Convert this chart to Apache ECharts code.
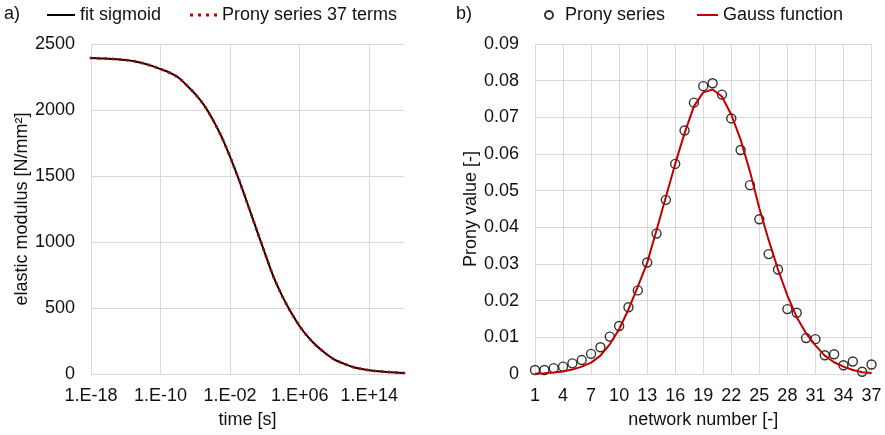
<!DOCTYPE html>
<html><head><meta charset="utf-8">
<script src="https://cdn.jsdelivr.net/npm/echarts@6/dist/echarts.min.js"></script>
<style>html,body{margin:0;padding:0;background:#fff}#c{width:885px;height:435px}</style>
</head><body><div id="c"></div>
<script>
// ---- panel a) ----
const timeExponents = [-18,-17,-16,-15,-14,-13,-12,-11,-10,-9,-8,-7,-6,-5,-4,-3,-2,-1,0,1,2,3,4,5,6,7,8,9,10,11,12,13,14,15,16,17,18];
const fitSigmoid = [2394,2391,2389,2385,2379,2369,2354,2334,2310,2284,2248,2188,2120,2037,1928,1800,1644,1474,1290,1101,916,735,590,467,362,278,210,155,109,80,55,39,28,21,16,12,8];
const pronySeries37 = [2394,2391,2389,2385,2379,2369,2354,2334,2310,2284,2248,2188,2120,2037,1928,1800,1644,1474,1290,1101,916,735,590,467,362,278,210,155,109,80,55,39,28,21,16,12,8];
const timeTickLabels = {'-18':'1.E-18','-10':'1.E-10','-2':'1.E-02','6':'1.E+06','14':'1.E+14'};
// ---- panel b) ----
const networkNumbers = ['1','2','3','4','5','6','7','8','9','10','11','12','13','14','15','16','17','18','19','20','21','22','23','24','25','26','27','28','29','30','31','32','33','34','35','36','37'];
const pronyValues = [0.0011,0.0011,0.0016,0.0020,0.0029,0.0038,0.0055,0.0073,0.0102,0.0131,0.0182,0.0228,0.0304,0.0383,0.0475,0.0573,0.0664,0.0740,0.0785,0.0793,0.0762,0.0697,0.0611,0.0515,0.0422,0.0327,0.0285,0.0177,0.0167,0.0098,0.0095,0.0051,0.0054,0.0024,0.0034,0.0006,0.0026];
const gaussValues = [0.0001,0.0002,0.0004,0.0007,0.0012,0.0020,0.0031,0.0050,0.0081,0.0122,0.0176,0.0238,0.0303,0.0392,0.0483,0.0573,0.0657,0.0730,0.0768,0.0776,0.0757,0.0707,0.0639,0.0552,0.0452,0.0365,0.0285,0.0214,0.0155,0.0111,0.0078,0.0050,0.0032,0.0020,0.0011,0.0005,0.0003];

const FONT = '"Liberation Sans", Arial, sans-serif';
const TXT = '#111';
const GRID = '#d9d9d9';
const RED = '#c00000';
const lbl = {fontFamily: FONT, fontSize: 18, color: TXT};
const dotsIcon = 'path://M0,0h3v3h-3z M8,0h3v3h-3z M16,0h3v3h-3z M24,0h3v3h-3z';

const chart = echarts.init(document.getElementById('c'), null, {renderer: 'canvas'});
chart.setOption({
  animation: false,
  backgroundColor: '#fff',
  textStyle: {fontFamily: FONT},
  graphic: [
    {type: 'text', left: 4, top: 5, style: {text: 'a)', font: '18px ' + FONT, fill: TXT}},
    {type: 'text', left: 456, top: 5, style: {text: 'b)', font: '18px ' + FONT, fill: TXT}}
  ],
  legend: [
    {data: [{name: 'fit sigmoid', icon: 'rect', itemStyle: {color: '#000'}}], left: 47, top: 6, padding: 0,
     itemWidth: 28, itemHeight: 2, textStyle: lbl},
    {data: [{name: 'Prony series 37 terms', icon: dotsIcon, itemStyle: {color: RED}}], left: 190, top: 6, padding: 0,
     itemWidth: 27, itemHeight: 3, textStyle: lbl},
    {data: ['Prony series'], left: 544, top: 6, padding: 0, itemWidth: 8, itemHeight: 8,
     textStyle: Object.assign({}, lbl, {padding: [0,0,0,7]})},
    {data: [{name: 'Gauss function', icon: 'rect', itemStyle: {color: RED}}], left: 697, top: 6, padding: 0,
     itemWidth: 21, itemHeight: 2, textStyle: lbl}
  ],
  grid: [
    {left: 91, right: 481, top: 44, bottom: 61},
    {left: 535, right: 13.5, top: 44, bottom: 61}
  ],
  xAxis: [
    {
      type: 'value', gridIndex: 0, min: -18, max: 18, interval: 8,
      name: 'time [s]', nameLocation: 'middle', nameGap: 37, nameTextStyle: lbl,
      axisLine: {show: true, lineStyle: {color: GRID, width: 1}},
      axisTick: {show: false},
      axisLabel: Object.assign({}, lbl, {margin: 13, showMaxLabel: false,
        formatter: v => timeTickLabels[String(Math.round(v))] || ''}),
      splitLine: {show: true, showMaxLine: false, lineStyle: {color: GRID, width: 1}}
    },
    {
      type: 'category', gridIndex: 1, data: networkNumbers, boundaryGap: false,
      name: 'network number [-]', nameLocation: 'middle', nameGap: 37, nameTextStyle: lbl,
      axisLine: {show: true, lineStyle: {color: GRID, width: 1}},
      axisTick: {show: false},
      axisLabel: Object.assign({}, lbl, {margin: 13, interval: 2}),
      splitLine: {show: true, interval: 2, lineStyle: {color: GRID, width: 1}}
    }
  ],
  yAxis: [
    {
      type: 'value', gridIndex: 0, min: 0, max: 2500, interval: 500,
      name: 'elastic modulus [N/mm²]', nameLocation: 'middle', nameGap: 58, nameTextStyle: lbl,
      axisLine: {show: false}, axisTick: {show: false},
      axisLabel: Object.assign({}, lbl, {margin: 16, formatter: v => String(Math.round(v))}),
      splitLine: {show: true, lineStyle: {color: GRID, width: 1}}
    },
    {
      type: 'value', gridIndex: 1, min: 0, max: 0.09, interval: 0.01,
      name: 'Prony value [-]', nameLocation: 'middle', nameGap: 55, nameTextStyle: lbl,
      axisLine: {show: false}, axisTick: {show: false},
      axisLabel: Object.assign({}, lbl, {margin: 16, formatter: v => v === 0 ? '0' : v.toFixed(2)}),
      splitLine: {show: true, lineStyle: {color: GRID, width: 1}}
    }
  ],
  series: [
    {
      name: 'fit sigmoid', type: 'line', xAxisIndex: 0, yAxisIndex: 0,
      data: timeExponents.map((e, i) => [e, fitSigmoid[i]]),
      showSymbol: false, symbol: 'none', smooth: 0.3,
      lineStyle: {color: '#000', width: 2}, itemStyle: {color: '#000'}, z: 2
    },
    {
      name: 'Prony series 37 terms', type: 'line', xAxisIndex: 0, yAxisIndex: 0,
      data: timeExponents.map((e, i) => [e, pronySeries37[i]]),
      showSymbol: false, symbol: 'none', smooth: 0.3,
      lineStyle: {color: RED, width: 3, type: [0.01, 7.3], cap: 'round'}, itemStyle: {color: RED}, z: 3
    },
    {
      name: 'Prony series', type: 'scatter', xAxisIndex: 1, yAxisIndex: 1,
      data: pronyValues, symbol: 'circle', symbolSize: 9,
      itemStyle: {color: 'rgba(255,255,255,0)', borderColor: '#000', borderWidth: 1.4}, z: 3
    },
    {
      name: 'Gauss function', type: 'line', xAxisIndex: 1, yAxisIndex: 1,
      data: gaussValues, showSymbol: false, symbol: 'none',
      lineStyle: {color: RED, width: 2}, itemStyle: {color: RED}, z: 4
    }
  ]
});
</script></body></html>
